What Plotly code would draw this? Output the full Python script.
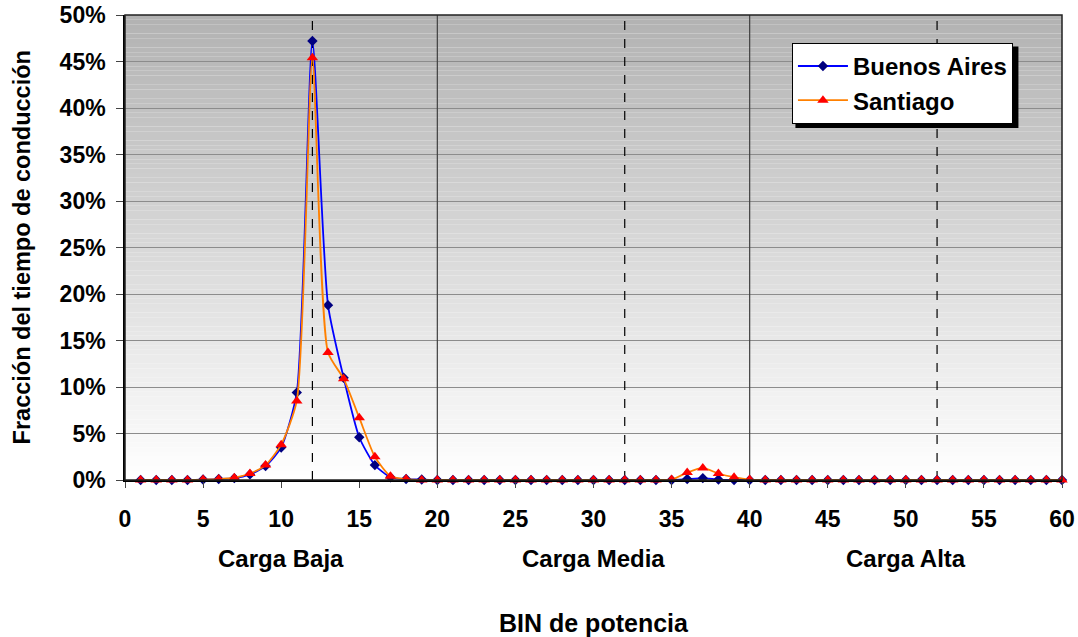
import plotly.graph_objects as go

# Power bins 1..60
bins = list(range(1, 61))

# Fraction of driving time (%) per power bin
buenos_aires = [0, 0, 0, 0, 0.05, 0.1, 0.2, 0.6, 1.5, 3.5, 9.4, 47.2, 18.8, 11.0, 4.6, 1.6, 0.3, 0.1, 0.05, 0,
                0, 0, 0, 0, 0, 0, 0, 0, 0, 0, 0, 0, 0, 0, 0, 0.1, 0.2, 0.05, 0, 0,
                0, 0, 0, 0, 0, 0, 0, 0, 0, 0, 0, 0, 0, 0, 0, 0, 0, 0, 0, 0]
santiago = [0, 0, 0, 0, 0.05, 0.1, 0.25, 0.7, 1.6, 3.8, 8.5, 45.4, 13.7, 10.9, 6.7, 2.5, 0.4, 0.1, 0, 0,
            0, 0, 0, 0, 0, 0, 0, 0, 0, 0, 0, 0, 0, 0, 0.05, 0.8, 1.3, 0.7, 0.3, 0.05,
            0, 0, 0, 0, 0, 0, 0, 0, 0, 0, 0, 0, 0, 0, 0, 0, 0, 0, 0, 0]

# Load zones and their label positions
zone_labels = ["Carga Baja", "Carga Media", "Carga Alta"]
zone_centers = [10, 30, 50]
zone_limits = [20, 40]
dashed_refs = [12, 32, 52]

FONT = "Liberation Sans, Arial, sans-serif"

fig = go.Figure()

fig.add_trace(go.Scatter(
    x=bins, y=buenos_aires, name="<b>Buenos Aires</b>", mode="lines+markers",
    line=dict(color="#0000ff", width=1.8, shape="spline", smoothing=0.6),
    marker=dict(symbol="diamond", size=8, color="#000080"),
    cliponaxis=False,
))
fig.add_trace(go.Scatter(
    x=bins, y=santiago, name="<b>Santiago</b>", mode="lines+markers",
    line=dict(color="#ff8000", width=1.8, shape="spline", smoothing=0.6),
    marker=dict(symbol="triangle-up", size=10, color="#ff0000"),
    cliponaxis=False,
))

# Vertical gradient background: gray at the top fading to white
shapes = []
steps = 100
top_rgb = (178, 178, 178)
for i in range(steps):
    y0 = 50 * i / steps
    y1 = 50 * (i + 1) / steps
    t = (i + 0.5) / steps
    c = [round(255 + (tc - 255) * t) for tc in top_rgb]
    shapes.append(dict(type="rect", xref="x", yref="y", x0=0, x1=60, y0=y0, y1=y1,
                       fillcolor=f"rgb({c[0]},{c[1]},{c[2]})", line=dict(width=0),
                       layer="below"))

for xv in zone_limits:
    shapes.append(dict(type="line", xref="x", yref="y", x0=xv, x1=xv, y0=0, y1=50,
                       line=dict(color="#404040", width=1.2), layer="between"))
for xv in dashed_refs:
    shapes.append(dict(type="line", xref="x", yref="y", x0=xv, x1=xv, y0=0, y1=50,
                       line=dict(color="#000000", width=1.2, dash="dash"), layer="between"))

# Plot-area frame
shapes.append(dict(type="rect", xref="paper", yref="paper", x0=0, x1=1, y0=0, y1=1,
                   line=dict(color="#222222", width=1.5), layer="above"))

# Drop shadow behind the legend box
shapes.append(dict(type="rect", xref="paper", yref="paper",
                   x0=0.7155, x1=0.9535, y0=0.757, y1=0.932,
                   fillcolor="#000000", line=dict(width=0), layer="above"))

annotations = []
for lbl, xc in zip(zone_labels, zone_centers):
    annotations.append(dict(x=xc, y=-0.168, xref="x", yref="paper", text=f"<b>{lbl}</b>",
                            xanchor="center", yanchor="middle",
                            showarrow=False, font=dict(family=FONT, size=24, color="black")))
annotations.append(dict(x=0.5, y=-0.3075, xref="paper", yref="paper", text="<b>BIN de potencia</b>",
                        xanchor="center", yanchor="middle",
                        showarrow=False, font=dict(family=FONT, size=25, color="black")))
annotations.append(dict(x=-0.11, y=0.5, xref="paper", yref="paper",
                        text="<b>Fracción del tiempo de conducción</b>", textangle=-90,
                        xanchor="center", yanchor="middle",
                        showarrow=False, font=dict(family=FONT, size=23.5, color="black")))

fig.update_layout(
    width=1078, height=637,
    margin=dict(l=125, r=16, t=15, b=157, autoexpand=False),
    paper_bgcolor="white",
    plot_bgcolor="white",
    font=dict(family=FONT, size=23, color="black"),
    shapes=shapes,
    annotations=annotations,
    showlegend=True,
    legend=dict(x=0.7118, y=0.94, xanchor="left", yanchor="top",
                bgcolor="white", bordercolor="black", borderwidth=1,
                font=dict(family=FONT, size=24, color="black"),
                itemwidth=50, tracegroupgap=4),
    hovermode=False,
)

fig.update_xaxes(
    range=[0, 60], tickmode="linear", tick0=0, dtick=5,
    showgrid=False, zeroline=False, automargin=False,
    showline=True, linecolor="black", linewidth=1.5,
    ticks="outside", ticklen=6, tickcolor="#444444",
    tickfont=dict(family=FONT, size=23, color="black"),
    tickprefix="<b>", ticksuffix="</b>",
    ticklabelstandoff=12,
)
fig.update_yaxes(
    range=[0, 50], tickmode="linear", tick0=0, dtick=5,
    showgrid=True, gridcolor="#8c8c8c", gridwidth=1,
    zeroline=False, automargin=False,
    showline=True, linecolor="black", linewidth=1.5,
    ticks="outside", ticklen=7, tickcolor="#444444",
    tickfont=dict(family=FONT, size=23, color="black"),
    tickprefix="<b>", ticksuffix="%</b>",
    ticklabelstandoff=6,
)

fig.write_html("out.html")
